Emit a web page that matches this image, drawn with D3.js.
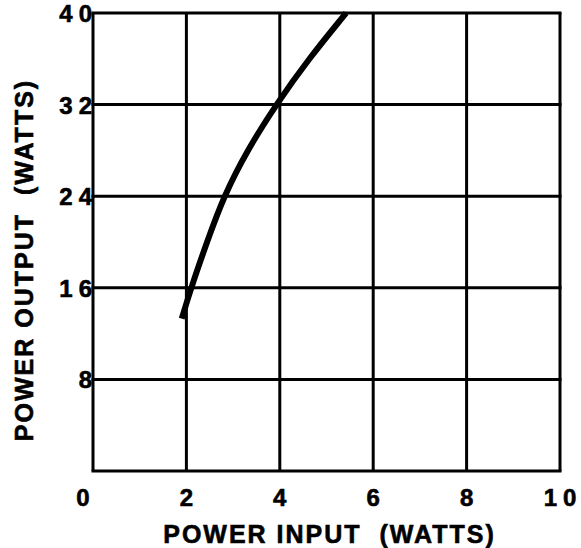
<!DOCTYPE html>
<html>
<head>
<meta charset="utf-8">
<script src="https://cdn.jsdelivr.net/npm/d3@7"></script>
<style>
  body { margin: 0; background: #fff; }
  text { font-family: "Liberation Sans", Arial, sans-serif; font-weight: bold; fill: #000; stroke: #000; stroke-width: 0.6px; }
</style>
</head>
<body>
<svg id="chart"></svg>
<script>
var xTicks = [0, 2, 4, 6, 8, 10];
var yTicks = [8, 16, 24, 32, 40];
var powerIn  = [1.9, 2.1, 2.44, 2.8, 3.3, 3.92, 4.62, 5.42];
var powerOut = [13.3, 16, 20, 24, 28, 32, 36, 40];

var width = 581, height = 548;
var margin = { top: 13, bottom: 77, left: 93, right: 21 };

var svg = d3.select('#chart')
            .attr('width', width)
            .attr('height', height);

var xScale = d3.scaleLinear()
               .domain([0, 10])
               .range([margin.left, width - margin.right]);

var yScale = d3.scaleLinear()
               .domain([0, 40])
               .range([height - margin.bottom, margin.top]);

// grid lines (frame included)
svg.append('g').selectAll('line')
   .data(xTicks)
   .enter().append('line')
   .attr('x1', d => xScale(d)).attr('x2', d => xScale(d))
   .attr('y1', yScale(0)).attr('y2', yScale(40))
   .attr('stroke', '#000').attr('stroke-width', 3);

svg.append('g').selectAll('line')
   .data([0].concat(yTicks))
   .enter().append('line')
   .attr('x1', xScale(0) - 1.5).attr('x2', xScale(10) + 1.5)
   .attr('y1', d => yScale(d)).attr('y2', d => yScale(d))
   .attr('stroke', '#000').attr('stroke-width', 3);

// tick labels
svg.append('g').selectAll('text')
   .data(xTicks)
   .enter().append('text')
   .attr('x', d => xScale(d) + (d === 0 ? -7 : 3))
   .attr('y', yScale(0) + 35)
   .attr('text-anchor', 'middle')
   .style('font-size', '24px')
   .style('letter-spacing', '6px')
   .text(d => d);

svg.append('g').selectAll('text')
   .data(yTicks)
   .enter().append('text')
   .attr('x', xScale(0) + 5)
   .attr('y', d => yScale(d) + 9)
   .attr('text-anchor', 'end')
   .style('font-size', '24px')
   .style('letter-spacing', '6px')
   .text(d => d);

// axis titles
svg.append('text')
   .attr('x', (xScale(0) + xScale(10)) / 2 + 3)
   .attr('y', 543)
   .attr('text-anchor', 'middle')
   .style('font-size', '25px')
   .style('letter-spacing', '2px')
   .style('white-space', 'pre')
   .text('POWER INPUT  (WATTS)');

svg.append('text')
   .attr('transform', 'translate(33,' + 260 + ') rotate(-90)')
   .attr('text-anchor', 'middle')
   .style('font-size', '25px')
   .style('letter-spacing', '2px')
   .style('white-space', 'pre')
   .text('POWER OUTPUT  (WATTS)');

// curve
var pts = powerIn.map(function (v, i) { return [v, powerOut[i]]; });
var line = d3.line()
             .x(d => xScale(d[0]))
             .y(d => yScale(d[1]))
             .curve(d3.curveBasis);

svg.append('path')
   .datum(pts)
   .attr('d', line)
   .attr('fill', 'none')
   .attr('stroke', '#000')
   .attr('stroke-width', 6);
</script>
</body>
</html>
